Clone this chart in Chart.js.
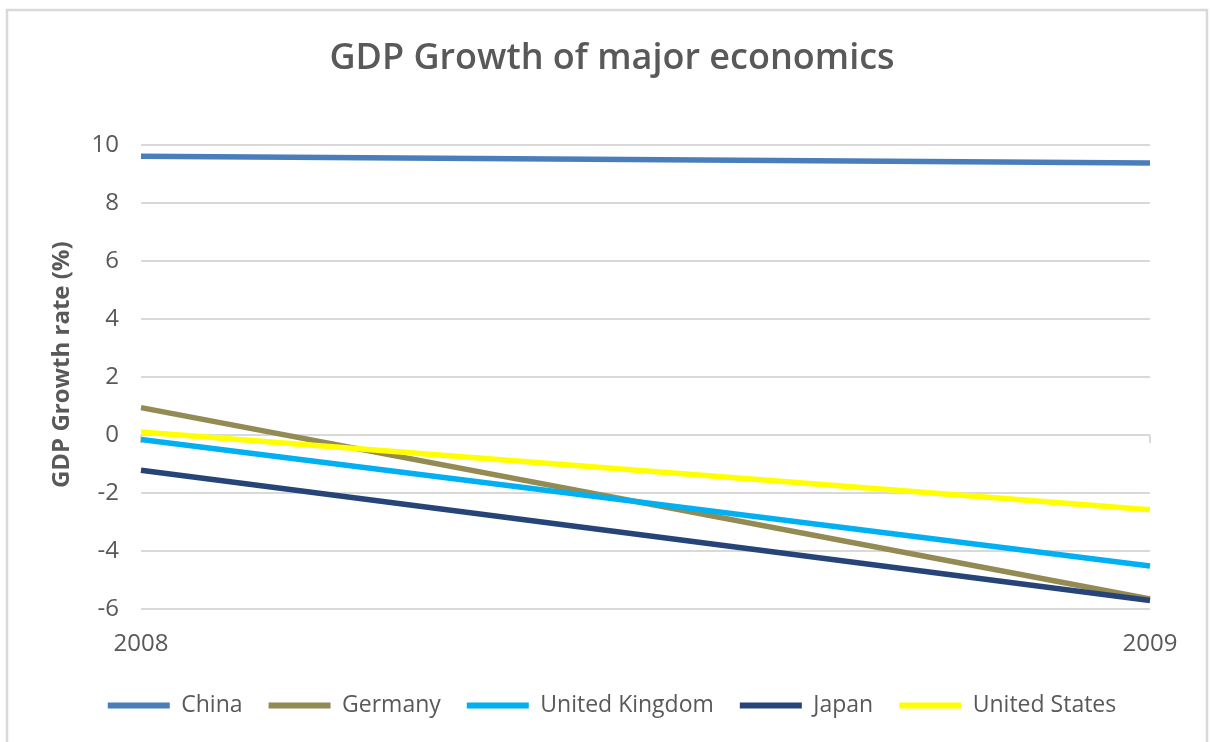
<!DOCTYPE html>
<html>
<head>
<meta charset="utf-8">
<script src="https://cdn.jsdelivr.net/npm/chart.js@4.4.1/dist/chart.umd.min.js"></script>
<style>
  html, body { margin: 0; padding: 0; background: #ffffff; }
  #wrap { position: relative; width: 1210px; height: 742px; }
  canvas { display: block; }
</style>
</head>
<body>
<div id="wrap"><canvas id="c" width="1210" height="742"></canvas></div>
<script>
// ---- data ----
const years = ['2008', '2009'];
const china = [9.62, 9.39];
const germany = [0.95, -5.65];
const unitedKingdom = [-0.15, -4.51];
const japan = [-1.21, -5.7];
const unitedStates = [0.11, -2.57];
const seriesNames = ['China', 'Germany', 'United Kingdom', 'Japan', 'United States'];
const yTicks = { min: -6, max: 10, step: 2 };

const colors = ['#4A7EBB', '#948A54', '#00B0F0', '#264478', '#FFFF00'];
const values = [china, germany, unitedKingdom, japan, unitedStates];

const frame = {
  id: 'frame',
  beforeDraw(chart) {
    const ctx = chart.ctx;
    ctx.save();
    ctx.fillStyle = '#ffffff';
    ctx.fillRect(0, 0, chart.width, chart.height);
    ctx.strokeStyle = '#d9d9d9';
    ctx.lineWidth = 2.5;
    ctx.strokeRect(7, 10, 1200, 760);
    ctx.restore();
  },
  beforeDatasetsDraw(chart) {
    const ctx = chart.ctx;
    const x = chart.scales.x, y = chart.scales.y;
    const y0 = y.getPixelForValue(0);
    ctx.save();
    ctx.strokeStyle = '#d9d9d9';
    ctx.lineWidth = 2;
    for (let i = 0; i < years.length; i++) {
      const px = x.getPixelForValue(i);
      ctx.beginPath();
      ctx.moveTo(px, y0);
      ctx.lineTo(px, y0 + 8);
      ctx.stroke();
    }
    ctx.restore();
  }
};

new Chart(document.getElementById('c'), {
  type: 'line',
  data: {
    labels: years,
    datasets: seriesNames.map((n, i) => ({
      label: n,
      data: values[i],
      borderColor: colors[i],
      backgroundColor: colors[i],
      borderWidth: 5.5,
      pointRadius: 0,
      tension: 0,
      order: seriesNames.length - i
    }))
  },
  options: {
    responsive: false,
    animation: false,
    layout: { padding: { left: 74, right: 60, top: 0, bottom: 15 } },
    plugins: {
      title: {
        display: true,
        text: 'GDP Growth of major economics',
        color: '#595959',
        font: { family: 'Open Sans', size: 36, weight: '600' },
        padding: { top: 37, bottom: 65 }
      },
      legend: {
        position: 'bottom',
        labels: {
          color: '#595959',
          font: { family: 'Open Sans', size: 23 },
          boxWidth: 62,
          boxHeight: 6,
          padding: 26,
          useBorderRadius: true,
          borderRadius: 3,
          sort: (a, b) => a.datasetIndex - b.datasetIndex,
          generateLabels(chart) {
            return chart.data.datasets.map((d, i) => ({
              text: d.label,
              fillStyle: d.borderColor,
              strokeStyle: d.borderColor,
              lineWidth: 0,
              fontColor: '#595959',
              hidden: false,
              datasetIndex: i
            }));
          }
        }
      },
      tooltip: { enabled: false }
    },
    scales: {
      x: {
        offset: false,
        grid: { display: false, drawTicks: false },
        border: { display: false },
        ticks: { color: '#595959', font: { family: 'Open Sans', size: 24 }, padding: 21, maxRotation: 0 },
        afterFit(scale) { scale.height -= 12; }
      },
      y: {
        min: yTicks.min,
        max: yTicks.max,
        grid: { color: '#d9d9d9', lineWidth: 2, drawTicks: false },
        border: { display: false },
        ticks: { stepSize: yTicks.step, color: '#595959', font: { family: 'Open Sans', size: 24 }, padding: 22 },
        title: {
          display: true,
          text: '    GDP Growth rate (%)',
          color: '#595959',
          font: { family: 'Open Sans', size: 24, weight: 'bold' },
          padding: { top: -26, bottom: 0 }
        },
        afterFit(scale) { scale.width = 67; }
      }
    }
  },
  plugins: [frame]
});
</script>
</body>
</html>
